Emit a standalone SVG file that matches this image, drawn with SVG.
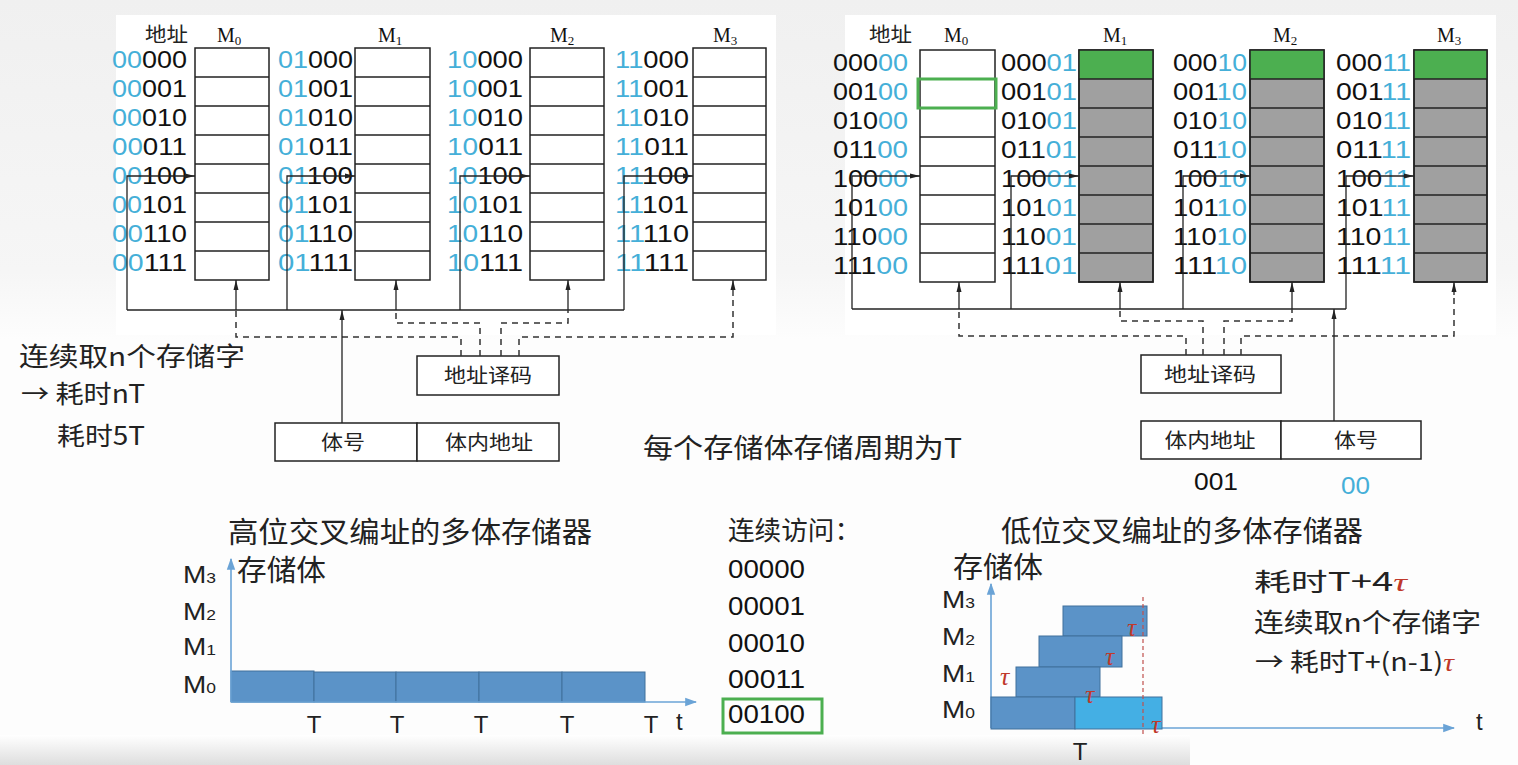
<svg xmlns="http://www.w3.org/2000/svg" width="1518" height="765" viewBox="0 0 1518 765">
<defs>
<style>
.box{fill:#fff;stroke:#222;stroke-width:1.5}
.gbox{fill:#a0a0a0;stroke:#222;stroke-width:1.5}
.grn{fill:#4caf50}
.row{stroke:#222;stroke-width:1.5}
.ln{stroke:#222;stroke-width:1.3;fill:none}
.dash{stroke:#333;stroke-width:1.5;stroke-dasharray:6 5;fill:none}
.num{font-family:"Liberation Sans","Noto Sans",sans-serif;font-size:24px;fill:#111}
.b{fill:#45afd8}
.ml{font-family:"Liberation Serif",serif;font-size:20px;fill:#111}
.sub{font-size:13px}
.cjk{font-family:"Noto Sans CJK SC","Noto Sans",sans-serif;fill:#222}
.bx{font-family:"Noto Sans CJK SC",sans-serif;font-size:20px;fill:#222;text-anchor:middle}
.mc{font-family:"Liberation Sans","Noto Sans",sans-serif;font-size:24px;fill:#222}
.ms{font-size:15px}
.bar{fill:#5b93c8;stroke:#41719c;stroke-width:1}
.bar2{fill:#44afe4;stroke:#41719c;stroke-width:1}
.axis{stroke:#6aa3d6;stroke-width:1.6;fill:none}
.tau{font-family:"Liberation Serif",serif;font-style:italic;font-size:26px;fill:#c0392b}
.lat{font-family:"Liberation Sans","Noto Sans",sans-serif;fill:#111}
</style>
<marker id="ah" viewBox="0 0 10 10" refX="10" refY="5" markerWidth="10" markerHeight="10" orient="auto" markerUnits="userSpaceOnUse"><path d="M0,2.5 L10,5 L0,7.5 z" fill="#222"/></marker>
<marker id="ahb" viewBox="0 0 10 10" refX="9" refY="5" markerWidth="12" markerHeight="12" orient="auto" markerUnits="userSpaceOnUse"><path d="M0,1.5 L10,5 L0,8.5 z" fill="#6aa3d6"/></marker>
<linearGradient id="bot" x1="0" y1="0" x2="0" y2="1"><stop offset="0" stop-color="#ffffff"/><stop offset="1" stop-color="#dedede"/></linearGradient>
<linearGradient id="side" x1="0" y1="0" x2="0" y2="1"><stop offset="0" stop-color="#f0f0f0"/><stop offset="0.8" stop-color="#f6f6f6"/><stop offset="1" stop-color="#fdfdfd"/></linearGradient>
</defs>

<!-- background -->
<rect x="0" y="0" width="1518" height="765" fill="#fdfdfd"/>
<rect x="0" y="0" width="1518" height="340" fill="url(#side)"/>
<rect x="116" y="15" width="660" height="320" fill="#ffffff"/>
<rect x="845" y="15" width="651" height="320" fill="#ffffff"/>
<rect x="0" y="735" width="1190" height="30" fill="url(#bot)"/>

<!-- ===== Top-left: high-order interleaving ===== -->
<g id="tl-header">
<text class="cjk" x="145" y="42" font-size="20" textLength="43" lengthAdjust="spacingAndGlyphs">地址</text>
<text class="ml" x="217" y="42">M<tspan class="sub" dy="3">0</tspan></text>
<text class="ml" x="378" y="42">M<tspan class="sub" dy="3">1</tspan></text>
<text class="ml" x="550" y="42">M<tspan class="sub" dy="3">2</tspan></text>
<text class="ml" x="713" y="42">M<tspan class="sub" dy="3">3</tspan></text>
</g>

<g id="tl-M0">
<rect class="box" x="195" y="48" width="74" height="232"/>
<path class="row" d="M195,77H269M195,106H269M195,135H269M195,164H269M195,193H269M195,222H269M195,251H269"/>
<g class="num">
<text x="112" y="68" textLength="75" lengthAdjust="spacingAndGlyphs"><tspan class="b">00</tspan>000</text>
<text x="112" y="97" textLength="75" lengthAdjust="spacingAndGlyphs"><tspan class="b">00</tspan>001</text>
<text x="112" y="126" textLength="75" lengthAdjust="spacingAndGlyphs"><tspan class="b">00</tspan>010</text>
<text x="112" y="155" textLength="75" lengthAdjust="spacingAndGlyphs"><tspan class="b">00</tspan>011</text>
<text x="112" y="184" textLength="75" lengthAdjust="spacingAndGlyphs"><tspan class="b">00</tspan>100</text>
<text x="112" y="213" textLength="75" lengthAdjust="spacingAndGlyphs"><tspan class="b">00</tspan>101</text>
<text x="112" y="242" textLength="75" lengthAdjust="spacingAndGlyphs"><tspan class="b">00</tspan>110</text>
<text x="112" y="271" textLength="75" lengthAdjust="spacingAndGlyphs"><tspan class="b">00</tspan>111</text>
</g>
</g>

<g id="tl-M1">
<rect class="box" x="355" y="48" width="75" height="232"/>
<path class="row" d="M355,77H430M355,106H430M355,135H430M355,164H430M355,193H430M355,222H430M355,251H430"/>
<g class="num">
<text x="278" y="68" textLength="75" lengthAdjust="spacingAndGlyphs"><tspan class="b">01</tspan>000</text>
<text x="278" y="97" textLength="75" lengthAdjust="spacingAndGlyphs"><tspan class="b">01</tspan>001</text>
<text x="278" y="126" textLength="75" lengthAdjust="spacingAndGlyphs"><tspan class="b">01</tspan>010</text>
<text x="278" y="155" textLength="75" lengthAdjust="spacingAndGlyphs"><tspan class="b">01</tspan>011</text>
<text x="278" y="184" textLength="75" lengthAdjust="spacingAndGlyphs"><tspan class="b">01</tspan>100</text>
<text x="278" y="213" textLength="75" lengthAdjust="spacingAndGlyphs"><tspan class="b">01</tspan>101</text>
<text x="278" y="242" textLength="75" lengthAdjust="spacingAndGlyphs"><tspan class="b">01</tspan>110</text>
<text x="278" y="271" textLength="75" lengthAdjust="spacingAndGlyphs"><tspan class="b">01</tspan>111</text>
</g>
</g>

<g id="tl-M2">
<rect class="box" x="530" y="48" width="74" height="232"/>
<path class="row" d="M530,77H604M530,106H604M530,135H604M530,164H604M530,193H604M530,222H604M530,251H604"/>
<g class="num">
<text x="447" y="68" textLength="76" lengthAdjust="spacingAndGlyphs"><tspan class="b">10</tspan>000</text>
<text x="447" y="97" textLength="76" lengthAdjust="spacingAndGlyphs"><tspan class="b">10</tspan>001</text>
<text x="447" y="126" textLength="76" lengthAdjust="spacingAndGlyphs"><tspan class="b">10</tspan>010</text>
<text x="447" y="155" textLength="76" lengthAdjust="spacingAndGlyphs"><tspan class="b">10</tspan>011</text>
<text x="447" y="184" textLength="76" lengthAdjust="spacingAndGlyphs"><tspan class="b">10</tspan>100</text>
<text x="447" y="213" textLength="76" lengthAdjust="spacingAndGlyphs"><tspan class="b">10</tspan>101</text>
<text x="447" y="242" textLength="76" lengthAdjust="spacingAndGlyphs"><tspan class="b">10</tspan>110</text>
<text x="447" y="271" textLength="76" lengthAdjust="spacingAndGlyphs"><tspan class="b">10</tspan>111</text>
</g>
</g>

<g id="tl-M3">
<rect class="box" x="693" y="48" width="73" height="232"/>
<path class="row" d="M693,77H766M693,106H766M693,135H766M693,164H766M693,193H766M693,222H766M693,251H766"/>
<g class="num">
<text x="615" y="68" textLength="74" lengthAdjust="spacingAndGlyphs"><tspan class="b">11</tspan>000</text>
<text x="615" y="97" textLength="74" lengthAdjust="spacingAndGlyphs"><tspan class="b">11</tspan>001</text>
<text x="615" y="126" textLength="74" lengthAdjust="spacingAndGlyphs"><tspan class="b">11</tspan>010</text>
<text x="615" y="155" textLength="74" lengthAdjust="spacingAndGlyphs"><tspan class="b">11</tspan>011</text>
<text x="615" y="184" textLength="74" lengthAdjust="spacingAndGlyphs"><tspan class="b">11</tspan>100</text>
<text x="615" y="213" textLength="74" lengthAdjust="spacingAndGlyphs"><tspan class="b">11</tspan>101</text>
<text x="615" y="242" textLength="74" lengthAdjust="spacingAndGlyphs"><tspan class="b">11</tspan>110</text>
<text x="615" y="271" textLength="74" lengthAdjust="spacingAndGlyphs"><tspan class="b">11</tspan>111</text>
</g>
</g>

<g id="tl-decoder">
<rect class="box" x="417" y="356" width="142" height="39"/>
<text class="bx" x="488" y="383" textLength="88" lengthAdjust="spacingAndGlyphs">地址译码</text>
</g>
<g id="tl-addr">
<rect class="box" x="275" y="423" width="142" height="38"/>
<rect class="box" x="417" y="423" width="142" height="38"/>
<text class="bx" x="343" y="450" textLength="44" lengthAdjust="spacingAndGlyphs">体号</text>
<text class="bx" x="489" y="450" textLength="88" lengthAdjust="spacingAndGlyphs">体内地址</text>
</g>

<!-- ===== Top-right: low-order interleaving ===== -->
<g id="tr-header">
<text class="cjk" x="869" y="42" font-size="20" textLength="43" lengthAdjust="spacingAndGlyphs">地址</text>
<text class="ml" x="944" y="42">M<tspan class="sub" dy="3">0</tspan></text>
<text class="ml" x="1103" y="42">M<tspan class="sub" dy="3">1</tspan></text>
<text class="ml" x="1273" y="42">M<tspan class="sub" dy="3">2</tspan></text>
<text class="ml" x="1437" y="42">M<tspan class="sub" dy="3">3</tspan></text>
</g>

<g id="tr-M0">
<rect class="box" x="920" y="50" width="75" height="232"/>
<path class="row" d="M920,79H995M920,108H995M920,137H995M920,166H995M920,195H995M920,224H995M920,253H995"/>
<rect x="918" y="79" width="78" height="29" fill="none" stroke="#4caf50" stroke-width="3"/>
<g class="num">
<text x="833" y="71" textLength="75" lengthAdjust="spacingAndGlyphs">000<tspan class="b">00</tspan></text>
<text x="833" y="100" textLength="75" lengthAdjust="spacingAndGlyphs">001<tspan class="b">00</tspan></text>
<text x="833" y="129" textLength="75" lengthAdjust="spacingAndGlyphs">010<tspan class="b">00</tspan></text>
<text x="833" y="158" textLength="75" lengthAdjust="spacingAndGlyphs">011<tspan class="b">00</tspan></text>
<text x="833" y="187" textLength="75" lengthAdjust="spacingAndGlyphs">100<tspan class="b">00</tspan></text>
<text x="833" y="216" textLength="75" lengthAdjust="spacingAndGlyphs">101<tspan class="b">00</tspan></text>
<text x="833" y="245" textLength="75" lengthAdjust="spacingAndGlyphs">110<tspan class="b">00</tspan></text>
<text x="833" y="274" textLength="75" lengthAdjust="spacingAndGlyphs">111<tspan class="b">00</tspan></text>
</g>
</g>

<g id="tr-M1">
<rect class="gbox" x="1079" y="50" width="74" height="232"/>
<rect class="grn" x="1079" y="50" width="74" height="29"/>
<rect x="1079" y="50" width="74" height="232" fill="none" stroke="#222" stroke-width="1.5"/>
<path class="row" d="M1079,79H1153M1079,108H1153M1079,137H1153M1079,166H1153M1079,195H1153M1079,224H1153M1079,253H1153"/>
<g class="num">
<text x="1001" y="71" textLength="76" lengthAdjust="spacingAndGlyphs">000<tspan class="b">01</tspan></text>
<text x="1001" y="100" textLength="76" lengthAdjust="spacingAndGlyphs">001<tspan class="b">01</tspan></text>
<text x="1001" y="129" textLength="76" lengthAdjust="spacingAndGlyphs">010<tspan class="b">01</tspan></text>
<text x="1001" y="158" textLength="76" lengthAdjust="spacingAndGlyphs">011<tspan class="b">01</tspan></text>
<text x="1001" y="187" textLength="76" lengthAdjust="spacingAndGlyphs">100<tspan class="b">01</tspan></text>
<text x="1001" y="216" textLength="76" lengthAdjust="spacingAndGlyphs">101<tspan class="b">01</tspan></text>
<text x="1001" y="245" textLength="76" lengthAdjust="spacingAndGlyphs">110<tspan class="b">01</tspan></text>
<text x="1001" y="274" textLength="76" lengthAdjust="spacingAndGlyphs">111<tspan class="b">01</tspan></text>
</g>
</g>

<g id="tr-M2">
<rect class="gbox" x="1250" y="50" width="74" height="232"/>
<rect class="grn" x="1250" y="50" width="74" height="29"/>
<rect x="1250" y="50" width="74" height="232" fill="none" stroke="#222" stroke-width="1.5"/>
<path class="row" d="M1250,79H1324M1250,108H1324M1250,137H1324M1250,166H1324M1250,195H1324M1250,224H1324M1250,253H1324"/>
<g class="num">
<text x="1173" y="71" textLength="74" lengthAdjust="spacingAndGlyphs">000<tspan class="b">10</tspan></text>
<text x="1173" y="100" textLength="74" lengthAdjust="spacingAndGlyphs">001<tspan class="b">10</tspan></text>
<text x="1173" y="129" textLength="74" lengthAdjust="spacingAndGlyphs">010<tspan class="b">10</tspan></text>
<text x="1173" y="158" textLength="74" lengthAdjust="spacingAndGlyphs">011<tspan class="b">10</tspan></text>
<text x="1173" y="187" textLength="74" lengthAdjust="spacingAndGlyphs">100<tspan class="b">10</tspan></text>
<text x="1173" y="216" textLength="74" lengthAdjust="spacingAndGlyphs">101<tspan class="b">10</tspan></text>
<text x="1173" y="245" textLength="74" lengthAdjust="spacingAndGlyphs">110<tspan class="b">10</tspan></text>
<text x="1173" y="274" textLength="74" lengthAdjust="spacingAndGlyphs">111<tspan class="b">10</tspan></text>
</g>
</g>

<g id="tr-M3">
<rect class="gbox" x="1414" y="50" width="73" height="232"/>
<rect class="grn" x="1414" y="50" width="73" height="29"/>
<rect x="1414" y="50" width="73" height="232" fill="none" stroke="#222" stroke-width="1.5"/>
<path class="row" d="M1414,79H1487M1414,108H1487M1414,137H1487M1414,166H1487M1414,195H1487M1414,224H1487M1414,253H1487"/>
<g class="num">
<text x="1336" y="71" textLength="75" lengthAdjust="spacingAndGlyphs">000<tspan class="b">11</tspan></text>
<text x="1336" y="100" textLength="75" lengthAdjust="spacingAndGlyphs">001<tspan class="b">11</tspan></text>
<text x="1336" y="129" textLength="75" lengthAdjust="spacingAndGlyphs">010<tspan class="b">11</tspan></text>
<text x="1336" y="158" textLength="75" lengthAdjust="spacingAndGlyphs">011<tspan class="b">11</tspan></text>
<text x="1336" y="187" textLength="75" lengthAdjust="spacingAndGlyphs">100<tspan class="b">11</tspan></text>
<text x="1336" y="216" textLength="75" lengthAdjust="spacingAndGlyphs">101<tspan class="b">11</tspan></text>
<text x="1336" y="245" textLength="75" lengthAdjust="spacingAndGlyphs">110<tspan class="b">11</tspan></text>
<text x="1336" y="274" textLength="75" lengthAdjust="spacingAndGlyphs">111<tspan class="b">11</tspan></text>
</g>
</g>

<g id="tr-decoder">
<rect class="box" x="1141" y="355" width="140" height="38"/>
<text class="bx" x="1210" y="382" textLength="92" lengthAdjust="spacingAndGlyphs">地址译码</text>
</g>
<g id="tr-addr">
<rect class="box" x="1141" y="421" width="140" height="38"/>
<rect class="box" x="1281" y="421" width="140" height="38"/>
<text class="bx" x="1210" y="448" textLength="91" lengthAdjust="spacingAndGlyphs">体内地址</text>
<text class="bx" x="1356" y="448" textLength="44" lengthAdjust="spacingAndGlyphs">体号</text>
<text class="lat" x="1194" y="490" font-size="24" textLength="44" lengthAdjust="spacingAndGlyphs">001</text>
<text class="lat b" x="1341" y="494" font-size="24" textLength="29" lengthAdjust="spacingAndGlyphs" style="fill:#45afd8">00</text>
</g>

<!-- ===== connectors ===== -->
<g id="connectors">
<!-- top-left -->
<path class="ln" d="M127,310H624"/>
<path class="ln" d="M127,310V176H195" marker-end="url(#ah)"/>
<path class="ln" d="M287,310V176H355" marker-end="url(#ah)"/>
<path class="ln" d="M460,310V176H530" marker-end="url(#ah)"/>
<path class="ln" d="M624,310V176H693" marker-end="url(#ah)"/>
<path class="ln" d="M236,310V280" marker-end="url(#ah)"/>
<path class="ln" d="M396,310V280" marker-end="url(#ah)"/>
<path class="ln" d="M568,310V280" marker-end="url(#ah)"/>
<path class="ln" d="M733,296V280" marker-end="url(#ah)"/>
<path class="dash" d="M461,356V337H236V310"/>
<path class="dash" d="M480,356V323H396V310"/>
<path class="dash" d="M501,356V323H568V310"/>
<path class="dash" d="M519,356V337H733V296"/>
<path class="ln" d="M342,423V310" marker-end="url(#ah)"/>
<!-- top-right -->
<path class="ln" d="M852,309H1346"/>
<path class="ln" d="M852,309V176H920" marker-end="url(#ah)"/>
<path class="ln" d="M1011,309V176H1079" marker-end="url(#ah)"/>
<path class="ln" d="M1183,309V176H1250" marker-end="url(#ah)"/>
<path class="ln" d="M1346,309V176H1414" marker-end="url(#ah)"/>
<path class="ln" d="M959,309V282" marker-end="url(#ah)"/>
<path class="ln" d="M1120,309V282" marker-end="url(#ah)"/>
<path class="ln" d="M1292,309V282" marker-end="url(#ah)"/>
<path class="ln" d="M1454,295V282" marker-end="url(#ah)"/>
<path class="dash" d="M1186,355V336H959V309"/>
<path class="dash" d="M1203,355V321H1120V309"/>
<path class="dash" d="M1224,355V321H1292V309"/>
<path class="dash" d="M1241,355V336H1454V295"/>
<path class="ln" d="M1334,421V309" marker-end="url(#ah)"/>
</g>

<!-- ===== side texts ===== -->
<g id="notes">
<text class="cjk" x="19" y="366" font-size="26" textLength="226" lengthAdjust="spacingAndGlyphs">连续取n个存储字</text>
<text class="cjk" x="21" y="403" font-size="25" textLength="124" lengthAdjust="spacingAndGlyphs">→ 耗时nT</text>
<text class="cjk" x="57" y="445" font-size="25" textLength="88" lengthAdjust="spacingAndGlyphs">耗时5T</text>
<text class="cjk" x="643" y="458" font-size="27" textLength="319" lengthAdjust="spacingAndGlyphs">每个存储体存储周期为T</text>
</g>

<!-- ===== Bottom-left timing chart ===== -->
<g id="bl-chart">
<text class="cjk" x="228" y="543" font-size="29" textLength="364" lengthAdjust="spacingAndGlyphs">高位交叉编址的多体存储器</text>
<text class="cjk" x="237" y="581" font-size="29" textLength="89" lengthAdjust="spacingAndGlyphs">存储体</text>
<text class="mc" x="183" y="583" textLength="33" lengthAdjust="spacingAndGlyphs">M<tspan class="ms">3</tspan></text>
<text class="mc" x="183" y="620" textLength="33" lengthAdjust="spacingAndGlyphs">M<tspan class="ms">2</tspan></text>
<text class="mc" x="183" y="655" textLength="33" lengthAdjust="spacingAndGlyphs">M<tspan class="ms">1</tspan></text>
<text class="mc" x="183" y="693" textLength="33" lengthAdjust="spacingAndGlyphs">M<tspan class="ms">0</tspan></text>
<rect class="bar" x="231" y="671" width="83" height="31"/>
<rect class="bar" x="314" y="672" width="82" height="30"/>
<rect class="bar" x="396" y="672" width="83" height="30"/>
<rect class="bar" x="479" y="672" width="83" height="30"/>
<rect class="bar" x="562" y="672" width="83" height="30"/>
<path class="axis" d="M231,702V559" marker-end="url(#ahb)"/>
<path class="axis" d="M231,702H696" marker-end="url(#ahb)"/>
<g class="mc" text-anchor="middle">
<text x="314" y="733">T</text>
<text x="397" y="733">T</text>
<text x="481" y="733">T</text>
<text x="567" y="733">T</text>
<text x="651" y="733">T</text>
</g>
<text class="mc" x="676" y="730">t</text>
</g>

<!-- ===== consecutive accesses ===== -->
<g id="access-list">
<text class="cjk" x="728" y="540" font-size="26" textLength="133" lengthAdjust="spacingAndGlyphs">连续访问：</text>
<g class="lat" font-size="25">
<text x="728" y="578" textLength="77" lengthAdjust="spacingAndGlyphs">00000</text>
<text x="728" y="615" textLength="77" lengthAdjust="spacingAndGlyphs">00001</text>
<text x="728" y="652" textLength="77" lengthAdjust="spacingAndGlyphs">00010</text>
<text x="728" y="688" textLength="77" lengthAdjust="spacingAndGlyphs">00011</text>
<text x="728" y="723" textLength="77" lengthAdjust="spacingAndGlyphs">00100</text>
</g>
<rect x="723" y="699" width="99" height="34" fill="none" stroke="#4caf50" stroke-width="3"/>
</g>

<!-- ===== Bottom-right timing chart ===== -->
<g id="br-chart">
<text class="cjk" x="1001" y="542" font-size="29" textLength="362" lengthAdjust="spacingAndGlyphs">低位交叉编址的多体存储器</text>
<text class="cjk" x="953" y="578" font-size="29" textLength="90" lengthAdjust="spacingAndGlyphs">存储体</text>
<text class="mc" x="942" y="608" textLength="33" lengthAdjust="spacingAndGlyphs">M<tspan class="ms">3</tspan></text>
<text class="mc" x="942" y="645" textLength="33" lengthAdjust="spacingAndGlyphs">M<tspan class="ms">2</tspan></text>
<text class="mc" x="942" y="682" textLength="33" lengthAdjust="spacingAndGlyphs">M<tspan class="ms">1</tspan></text>
<text class="mc" x="942" y="718" textLength="33" lengthAdjust="spacingAndGlyphs">M<tspan class="ms">0</tspan></text>
<path class="axis" d="M991,728V584" marker-end="url(#ahb)"/>
<path class="axis" d="M991,728H1454" marker-end="url(#ahb)"/>
<rect class="bar" x="1063" y="606" width="84" height="30"/>
<rect class="bar" x="1039" y="636" width="83" height="31"/>
<rect class="bar" x="1016" y="667" width="84" height="30"/>
<rect class="bar" x="991" y="697" width="84" height="32"/>
<rect class="bar2" x="1075" y="697" width="87" height="32"/>
<path d="M1143,597V734" stroke="#c0504d" stroke-width="1.2" stroke-dasharray="4 3" fill="none"/>
<text class="tau" x="1000" y="685">τ</text>
<text class="tau" x="1085" y="703">τ</text>
<text class="tau" x="1105" y="665">τ</text>
<text class="tau" x="1127" y="636">τ</text>
<text class="tau" x="1151" y="733">τ</text>
<text class="mc" x="1080" y="760" text-anchor="middle">T</text>
<text class="mc" x="1476" y="730">t</text>
<text class="cjk" x="1254" y="591" font-size="25" textLength="153" lengthAdjust="spacingAndGlyphs">耗时<tspan font-size="26">T+4</tspan><tspan class="tau" font-size="27">τ</tspan></text>
<text class="cjk" x="1254" y="632" font-size="26" textLength="227" lengthAdjust="spacingAndGlyphs">连续取n个存储字</text>
<text class="cjk" x="1255" y="671" font-size="25" textLength="199" lengthAdjust="spacingAndGlyphs">→ 耗时T+(n-1)<tspan class="tau" font-size="25">τ</tspan></text>
</g>
</svg>
